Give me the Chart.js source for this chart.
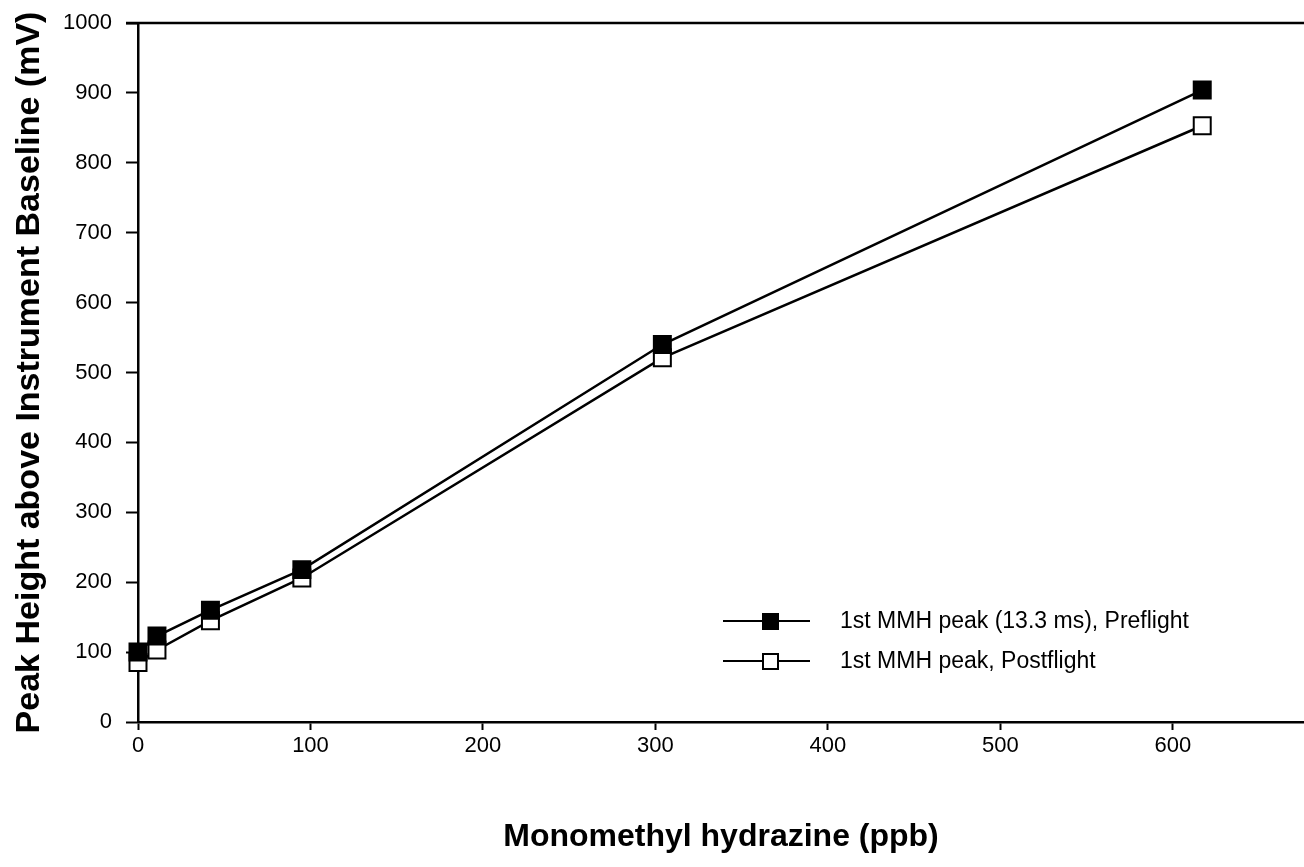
<!DOCTYPE html>
<html>
<head>
<meta charset="utf-8">
<script src="https://cdn.jsdelivr.net/npm/chart.js@4/dist/chart.umd.min.js"></script>
<style>
  html, body { margin: 0; padding: 0; background: #fff; overflow: hidden; }
  #wrap { width: 1304px; height: 867px; position: relative; }
</style>
</head>
<body>
<div id="wrap"><canvas id="MmhChart"></canvas></div>
<script>
// concentration of MMH (ppb)
const concentrations = [0, 11, 42, 95, 304, 617];
// peak heights (mV)
const preflight = [100, 123, 160, 218, 540, 904];
const postflight = [85, 103, 145, 206, 521, 853];
const seriesLabels = ['1st MMH peak (13.3 ms), Preflight', '1st MMH peak, Postflight'];
const yTicks = [0, 100, 200, 300, 400, 500, 600, 700, 800, 900, 1000];
const xTicks = [0, 100, 200, 300, 400, 500, 600];

const FONT = 'Arial, "Liberation Sans", Helvetica, sans-serif';

function toPoints(ys){
    return concentrations.map((x, i) => ({ x: x, y: ys[i] }));
}

// top frame line + legend drawn inside the plot area
const framePlugin = {
    id: 'frameAndLegend',
    afterDraw(chart){
        const c = chart.ctx;
        const area = chart.chartArea;
        c.save();
        c.strokeStyle = '#000';
        c.lineWidth = 2.5;
        c.beginPath();
        c.moveTo(area.left - 12, area.top);
        c.lineTo(area.right, area.top);
        c.stroke();

        // legend
        const rows = [621, 661];
        chart.data.datasets.forEach((ds, i) => {
            const y = rows[i];
            c.strokeStyle = '#000';
            c.lineWidth = 2;
            c.beginPath();
            c.moveTo(723, y);
            c.lineTo(810, y);
            c.stroke();
            c.fillStyle = ds.pointBackgroundColor;
            c.fillRect(763, y - 7, 15, 15);
            c.lineWidth = 2;
            c.strokeRect(763, y - 7, 15, 15);
            c.fillStyle = '#000';
            c.font = '23px ' + FONT;
            c.textBaseline = 'middle';
            c.textAlign = 'left';
            c.fillText(ds.label, 840, y + 1);
        });
        c.restore();
    }
};

const ctx = document.getElementById('MmhChart').getContext('2d');
const chart = new Chart(ctx, {
    type: 'scatter',
    data: {
        datasets: [
            {
                label: seriesLabels[0],
                data: toPoints(preflight),
                showLine: true,
                clip: false,
                borderColor: '#000',
                borderWidth: 2.5,
                pointStyle: 'rect',
                pointRadius: 12,
                pointBorderWidth: 2,
                pointBackgroundColor: '#000',
                pointBorderColor: '#000'
            },
            {
                label: seriesLabels[1],
                data: toPoints(postflight),
                showLine: true,
                clip: false,
                borderColor: '#000',
                borderWidth: 2.5,
                pointStyle: 'rect',
                pointRadius: 12,
                pointBorderWidth: 2,
                pointBackgroundColor: '#fff',
                pointBorderColor: '#000'
            }
        ]
    },
    options: {
        responsive: true,
        maintainAspectRatio: false,
        animation: false,
        layout: { autoPadding: false, padding: { left: 0, right: 0, top: 23, bottom: 0 } },
        plugins: {
            legend: { display: false },
            tooltip: { enabled: false }
        },
        scales: {
            x: {
                type: 'linear',
                min: 0,
                max: 676,
                afterBuildTicks: axis => { axis.ticks = xTicks.map(v => ({ value: v })); },
                afterFit: axis => {
                    axis.height = 145;
                    axis.paddingRight = 0;
                    axis.paddingLeft = 0;
                },
                ticks: {
                    color: '#000',
                    font: { size: 22, family: FONT },
                    padding: 3,
                    callback: v => String(v)
                },
                grid: {
                    drawOnChartArea: false,
                    drawTicks: true,
                    tickLength: 8,
                    tickWidth: 2,
                    color: '#000'
                },
                border: { display: true, color: '#000', width: 2.5 },
                title: {
                    display: true,
                    text: 'Monomethyl hydrazine (ppb)',
                    color: '#000',
                    font: { size: 32, weight: 'bold', family: FONT },
                    padding: { top: 0, bottom: 11 }
                }
            },
            y: {
                type: 'linear',
                min: 0,
                max: 1000,
                afterBuildTicks: axis => { axis.ticks = yTicks.map(v => ({ value: v })); },
                afterFit: axis => {
                    axis.width = 138;
                    axis.paddingTop = 0;
                    axis.paddingBottom = 0;
                },
                ticks: {
                    color: '#000',
                    font: { size: 22, family: FONT },
                    padding: 14,
                    callback: v => String(v)
                },
                grid: {
                    drawOnChartArea: false,
                    drawTicks: true,
                    tickLength: 12,
                    tickWidth: 2,
                    color: '#000'
                },
                border: { display: true, color: '#000', width: 2.5 },
                title: {
                    display: true,
                    text: 'Peak Height above Instrument Baseline (mV)',
                    color: '#000',
                    font: { size: 34, weight: 'bold', family: FONT },
                    padding: { top: 9, bottom: 0 }
                }
            }
        }
    },
    plugins: [framePlugin]
});
</script>
</body>
</html>
